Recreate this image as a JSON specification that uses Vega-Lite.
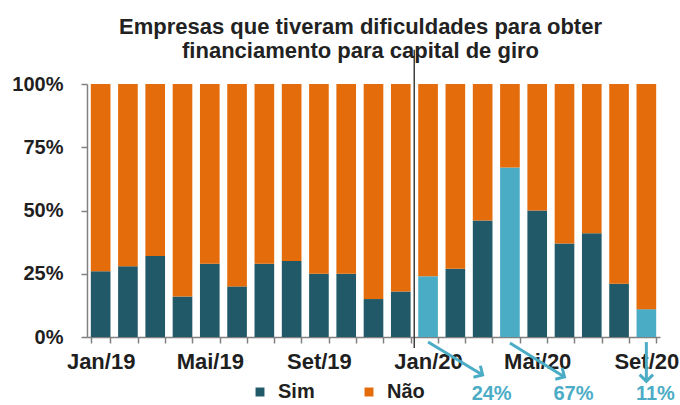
{
  "$schema": "https://vega.github.io/schema/vega-lite/v6.json",
  "width": 573,
  "height": 253,
  "autosize": {"type": "none"},
  "padding": {"left": 87, "top": 84, "right": 20, "bottom": 68},
  "background": "white",
  "config": {"view": {"stroke": null}, "font": "Liberation Sans"},
  "title": {
    "text": ["Empresas que tiveram dificuldades  para obter", "financiamento para capital de giro"],
    "fontSize": 22,
    "fontWeight": "bold",
    "font": "Liberation Sans",
    "color": "#222222",
    "lineHeight": 24,
    "anchor": "middle",
    "dx": -13,
    "offset": -14
  },
  "datasets": {
    "meses": [
      {"mes": "Jan/19", "Sim": 26, "Não": 74, "destaque": false},
      {"mes": "Fev/19", "Sim": 28, "Não": 72, "destaque": false},
      {"mes": "Mar/19", "Sim": 32, "Não": 68, "destaque": false},
      {"mes": "Abr/19", "Sim": 16, "Não": 84, "destaque": false},
      {"mes": "Mai/19", "Sim": 29, "Não": 71, "destaque": false},
      {"mes": "Jun/19", "Sim": 20, "Não": 80, "destaque": false},
      {"mes": "Jul/19", "Sim": 29, "Não": 71, "destaque": false},
      {"mes": "Ago/19", "Sim": 30, "Não": 70, "destaque": false},
      {"mes": "Set/19", "Sim": 25, "Não": 75, "destaque": false},
      {"mes": "Out/19", "Sim": 25, "Não": 75, "destaque": false},
      {"mes": "Nov/19", "Sim": 15, "Não": 85, "destaque": false},
      {"mes": "Dez/19", "Sim": 18, "Não": 82, "destaque": false},
      {"mes": "Jan/20", "Sim": 24, "Não": 76, "destaque": true},
      {"mes": "Fev/20", "Sim": 27, "Não": 73, "destaque": false},
      {"mes": "Mar/20", "Sim": 46, "Não": 54, "destaque": false},
      {"mes": "Abr/20", "Sim": 67, "Não": 33, "destaque": true},
      {"mes": "Mai/20", "Sim": 50, "Não": 50, "destaque": false},
      {"mes": "Jun/20", "Sim": 37, "Não": 63, "destaque": false},
      {"mes": "Jul/20", "Sim": 41, "Não": 59, "destaque": false},
      {"mes": "Ago/20", "Sim": 21, "Não": 79, "destaque": false},
      {"mes": "Set/20", "Sim": 11, "Não": 89, "destaque": true}
    ],
    "setas": [
      {"inicio": "Jan/20", "fim": "Mar/20", "y0": -2, "y1": -15, "rotulo": "24%"},
      {"inicio": "Abr/20", "fim": "Jun/20", "y0": -2.4, "y1": -15.8, "rotulo": "67%"},
      {"inicio": "Set/20", "fim": "Set/20", "y0": -2, "y1": -17.5, "rotulo": "11%"}
    ],
    "divisao": [{"mes": "Jan/20"}]
  },
  "layer": [
    {
      "data": {"name": "meses"},
      "transform": [{"fold": ["Sim", "Não"], "as": ["serie", "valor"]}],
      "mark": {"type": "bar"},
      "encoding": {
        "x": {
          "field": "mes",
          "type": "nominal",
          "sort": null,
          "scale": {
            "domain": ["Jan/19", "Fev/19", "Mar/19", "Abr/19", "Mai/19", "Jun/19", "Jul/19", "Ago/19", "Set/19", "Out/19", "Nov/19", "Dez/19", "Jan/20", "Fev/20", "Mar/20", "Abr/20", "Mai/20", "Jun/20", "Jul/20", "Ago/20", "Set/20"],
            "paddingInner": 0.28,
            "paddingOuter": 0.14
          },
          "axis": {
            "title": null,
            "tickBand": "extent",
            "labelAngle": 0,
            "labelOverlap": false,
            "labelExpr": "indexof(['Jan/19','Mai/19','Set/19','Jan/20','Mai/20','Set/20'], datum.value) >= 0 ? datum.value : ''",
            "domainColor": "#808080",
            "domainWidth": 1.5,
            "tickColor": "#808080",
            "tickWidth": 1.5,
            "tickSize": 6,
            "labelPadding": 8,
            "labelFontSize": 22,
            "labelFontWeight": "bold",
            "labelFont": "Liberation Sans",
            "labelColor": "#1f1f1f"
          }
        },
        "y": {
          "field": "valor",
          "type": "quantitative",
          "stack": "zero",
          "scale": {"domain": [0, 100], "nice": false},
          "axis": {
            "title": null,
            "values": [0, 25, 50, 75, 100],
            "labelExpr": "datum.value + '%'",
            "grid": false,
            "domainColor": "#808080",
            "domainWidth": 1.5,
            "tickColor": "#808080",
            "tickWidth": 1.5,
            "tickSize": 6,
            "labelPadding": 18,
            "labelFontSize": 20,
            "labelFontWeight": "bold",
            "labelFont": "Liberation Sans",
            "labelColor": "#1f1f1f"
          }
        },
        "color": {
          "condition": {"test": "datum.destaque && datum.serie == 'Sim'", "value": "#4BACC6"},
          "field": "serie",
          "type": "nominal",
          "scale": {"domain": ["Sim", "Não"], "range": ["#215968", "#E46C0A"]},
          "legend": {
            "title": null,
            "orient": "none",
            "legendX": 163,
            "legendY": 298,
            "direction": "horizontal",
            "symbolType": "square",
            "symbolSize": 80,
            "symbolStrokeWidth": 0,
            "labelOffset": 8,
            "columnPadding": 44,
            "labelFontSize": 20,
            "labelFontWeight": "bold",
            "labelFont": "Liberation Sans",
            "labelColor": "#1f1f1f"
          }
        },
        "order": {"field": "serie", "sort": "descending"}
      }
    },
    {
      "data": {"name": "divisao"},
      "mark": {"type": "rule", "xOffset": -4, "color": "#404040", "strokeWidth": 1.5},
      "encoding": {
        "x": {"field": "mes", "type": "nominal", "bandPosition": 0},
        "y": {"datum": -4.3},
        "y2": {"datum": 113.5}
      }
    },
    {
      "data": {"name": "setas"},
      "mark": {"type": "rule", "color": "#4BACC6", "strokeWidth": 3},
      "encoding": {
        "x": {"field": "inicio", "type": "nominal", "bandPosition": 0.5},
        "x2": {"field": "fim"},
        "y": {"field": "y0", "type": "quantitative"},
        "y2": {"field": "y1"}
      }
    },
    {
      "data": {"name": "setas"},
      "transform": [{"filter": "datum.inicio != datum.fim"}],
      "mark": {"type": "point", "shape": "M-1,-1L0,0L-1,1", "filled": false, "size": 180, "strokeWidth": 3, "color": "#4BACC6", "angle": 31, "opacity": 1},
      "encoding": {
        "x": {"field": "fim", "type": "nominal"},
        "y": {"field": "y1", "type": "quantitative"}
      }
    },
    {
      "data": {"name": "setas"},
      "transform": [{"filter": "datum.inicio == datum.fim"}],
      "mark": {"type": "point", "shape": "M-1,-1L0,0L-1,1", "filled": false, "size": 180, "strokeWidth": 3, "color": "#4BACC6", "angle": 90, "opacity": 1},
      "encoding": {
        "x": {"field": "fim", "type": "nominal"},
        "y": {"field": "y1", "type": "quantitative"}
      }
    },
    {
      "data": {"name": "setas"},
      "mark": {"type": "text", "color": "#4BACC6", "fontSize": 20, "fontWeight": "bold", "font": "Liberation Sans", "dx": 9, "baseline": "middle"},
      "encoding": {
        "x": {"field": "fim", "type": "nominal"},
        "y": {"datum": -22.7},
        "text": {"field": "rotulo"}
      }
    }
  ]
}
